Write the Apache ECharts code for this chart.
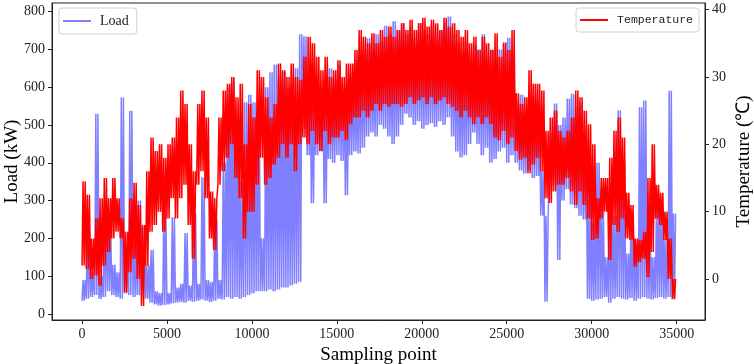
<!DOCTYPE html>
<html>
<head>
<meta charset="utf-8">
<script src="https://cdn.jsdelivr.net/npm/echarts@6/dist/echarts.min.js"></script>
<style>html,body{margin:0;padding:0;background:#fff;}#c{width:754px;height:364px;}</style>
</head>
<body>
<div id="c"></div>
<script>
// Sampling points grouped in blocks of 250 samples; each block has a daily low and daily high reading
const blockSize = 250;
const cyclesPerBlock = 2;
const xTicks = [0, 5000, 10000, 15000, 20000, 25000, 30000, 35000];
const loadTicks = [0, 100, 200, 300, 400, 500, 600, 700, 800];
const tempTicks = [0, 10, 20, 30, 40];

const loadLo = [35,40,45,50,40,45,60,50,45,40, 55,50,45,50,45,40,30,25,22,24, 25,28,30,32,30,35,32,35,38,35, 32,35,40,38,45,40,45,40,45,50,
  55,60,60,60,65,60,65,70,70,75, 80,85,490,420,293,420,430,293,410,400, 420,405,314,420,430,425,440,470,480,470,
  500,490,470,450,470,500,530,520,500,510, 490,500,505,495,510,500,520,470,430,414, 420,450,480,450,420,440,400,410,430,440,
  400,420,400,380,372,380,360,365,260,32, 360,340,143,300,330,290,280,260,250,40, 35,38,40,45,30,40,45,40,38,42, 35,40,45,40,38,42,45,40,45,40];
const loadHi = [90,220,110,530,100,300,250,130,110,573, 150,538,200,300,230,130,170,60,55,270, 55,256,70,80,214,75,266,80,362,90,
  85,248,90,400,600,615,520,350,560,580, 560,540,200,600,640,660,620,640,600,560, 650,740,735,600,560,580,600,580,650,620,
  660,600,580,640,620,680,700,730,690,740, 720,763,740,775,750,770,740,760,730,770, 750,740,760,730,750,770,787,740,720,700,
  720,690,710,700,740,680,700,660,700,720, 731,700,560,580,520,560,580,540,380,260, 480,557,500,520,570,583,550,560,400,300,
  240,400,290,150,300,260,539,400,160,250, 180,547,565,250,150,300,280,200,591,266];
const tempLo = [2,1.5,0,0.5,-1,2,4,6,7,6, -2,1,3,0,-4,2,7,8,10,7, 9,12,9,12,14,8,3,14,16,12, 6,4.3,14,16,18,20,15,12,6,10,
  10,14,18,14,15,17,18,20,18,20, 16,20,21,20,22,20,19,22,20,21, 21,22,20.6,23,24,24,25,24,25,26, 25,26,25.6,26,26,25.6,26,27,26,26.5,
  27,26,27,26,26.5,27,26,25.6,25,24, 25,24,23,24,23,24,23,21,20.6,22, 20,21,19,17.7,18,15.7,17,18,16,12, 11.3,13,14,14,15,13,11,13,11,9,
  5.8,6,9,10,2.8,8,7,9,6,5.8, 1.8,2.5,3,0.3,4,9,8,5.8,0,-3];
const tempHi = [14.5,12.5,6,9,12,15,12,15,12,9, 7,12,14.3,11,8,16,21,19,20,18, 20,21,24,28,26,20,16,26,28,24, 13,12,24,28,29,30,27,29,20,26,
  24,31,30,27,24,26,32,31,30,32, 30,29.6,33,36,35,33,31,33,30,31, 32.5,30,32,32,34,37,36,35,36.5,35, 37,36,37.5,36,37,38,37,38.5,37,38,
  38.8,37.5,38.5,38,37,38.8,37.5,38,37,36, 37,35,36,34,36,35,34,36.5,33,35, 34,37,27.6,26,27,31,29,29,28,22, 24,25,22,21,22,24,28,27,25,23,
  20,12,15,15,18,22,24,21,12.8,11, 6,5.8,7,15,20,14,12.8,10,6,0];

// each block holds daily cycles between its low and high reading
const loadData = [];
const tempData = [];
const step = blockSize / (2 * cyclesPerBlock);
for (let i = 0; i < loadLo.length; i++) {
  for (let c = 0; c < cyclesPerBlock; c++) {
    const x0 = i * blockSize + c * 2 * step;
    loadData.push([x0, loadLo[i]], [x0 + step, loadHi[i]]);
    tempData.push([x0, tempLo[i]], [x0 + step, tempHi[i]]);
  }
}

const serif = '"Liberation Serif", "Times New Roman", serif';
const axisCol = '#222';
const chart = echarts.init(document.getElementById('c'));
chart.setOption({
  animation: false,
  backgroundColor: '#fff',
  grid: { left: 52, right: 49, top: 3, bottom: 44, show: true, borderColor: axisCol, borderWidth: 1,
          containLabel: false, outerBoundsMode: 'none' },
  legend: [
    { data: [{ name: 'Load' }], left: 59, top: 8, orient: 'horizontal',
      icon: 'rect', itemWidth: 28, itemHeight: 2,
      padding: [6, 8, 6, 4], borderColor: '#d0d0d0', borderWidth: 1, borderRadius: 3, backgroundColor: 'rgba(255,255,255,0.8)',
      textStyle: { fontFamily: serif, fontSize: 14, color: '#222', padding: [0, 0, 0, 4] } },
    { data: [{ name: 'Temperature' }], right: 55, top: 8, orient: 'horizontal',
      icon: 'rect', itemWidth: 28, itemHeight: 2,
      padding: [6, 6, 6, 4], borderColor: '#d0d0d0', borderWidth: 1, borderRadius: 3, backgroundColor: 'rgba(255,255,255,0.8)',
      textStyle: { fontFamily: '"Liberation Mono", monospace', fontSize: 11.5, color: '#222', padding: [0, 0, 0, 4] } }
  ],
  xAxis: {
    type: 'value', min: -1766, max: 36670,
    name: 'Sampling point', nameLocation: 'middle', nameGap: 21,
    nameTextStyle: { fontFamily: serif, fontSize: 19, color: '#000' },
    axisLine: { show: true, onZero: false, lineStyle: { color: axisCol, width: 1 } },
    axisTick: { show: true, length: 4, customValues: xTicks, lineStyle: { color: axisCol } },
    axisLabel: { customValues: xTicks, margin: 7, fontFamily: serif, fontSize: 14, color: '#222',
                 formatter: v => String(v) },
    splitLine: { show: false }
  },
  yAxis: [
    { type: 'value', min: -16, max: 823, position: 'left',
      name: 'Load (kW)', nameLocation: 'middle', nameGap: 30, nameRotate: 90, nameMoveOverlap: false,
      nameTextStyle: { fontFamily: serif, fontSize: 19, color: '#000', lineHeight: 19 },
      axisLine: { show: true, onZero: false, lineStyle: { color: axisCol, width: 1 } },
      axisTick: { show: true, length: 4, customValues: loadTicks, lineStyle: { color: axisCol } },
      axisLabel: { customValues: loadTicks, margin: 7, fontFamily: serif, fontSize: 14, color: '#222' },
      splitLine: { show: false } },
    { type: 'value', min: -6.1, max: 41, position: 'right',
      name: 'Temperature (℃)', nameLocation: 'middle', nameGap: 30, nameRotate: 90, nameMoveOverlap: false,
      nameTextStyle: { fontFamily: serif, fontSize: 19, color: '#000', lineHeight: 19 },
      axisLine: { show: true, onZero: false, lineStyle: { color: axisCol, width: 1 } },
      axisTick: { show: true, length: 4, customValues: tempTicks, lineStyle: { color: axisCol } },
      axisLabel: { customValues: tempTicks, margin: 7, fontFamily: serif, fontSize: 14, color: '#222' },
      splitLine: { show: false } }
  ],
  series: [
    { name: 'Load', type: 'line', yAxisIndex: 0, data: loadData, symbol: 'none',
      lineStyle: { color: '#8080ff', width: 1.5 }, itemStyle: { color: '#8080ff' } },
    { name: 'Temperature', type: 'line', yAxisIndex: 1, data: tempData, symbol: 'none',
      lineStyle: { color: '#ff0000', width: 1.5 }, itemStyle: { color: '#ff0000' } }
  ]
});
</script>
</body>
</html>
